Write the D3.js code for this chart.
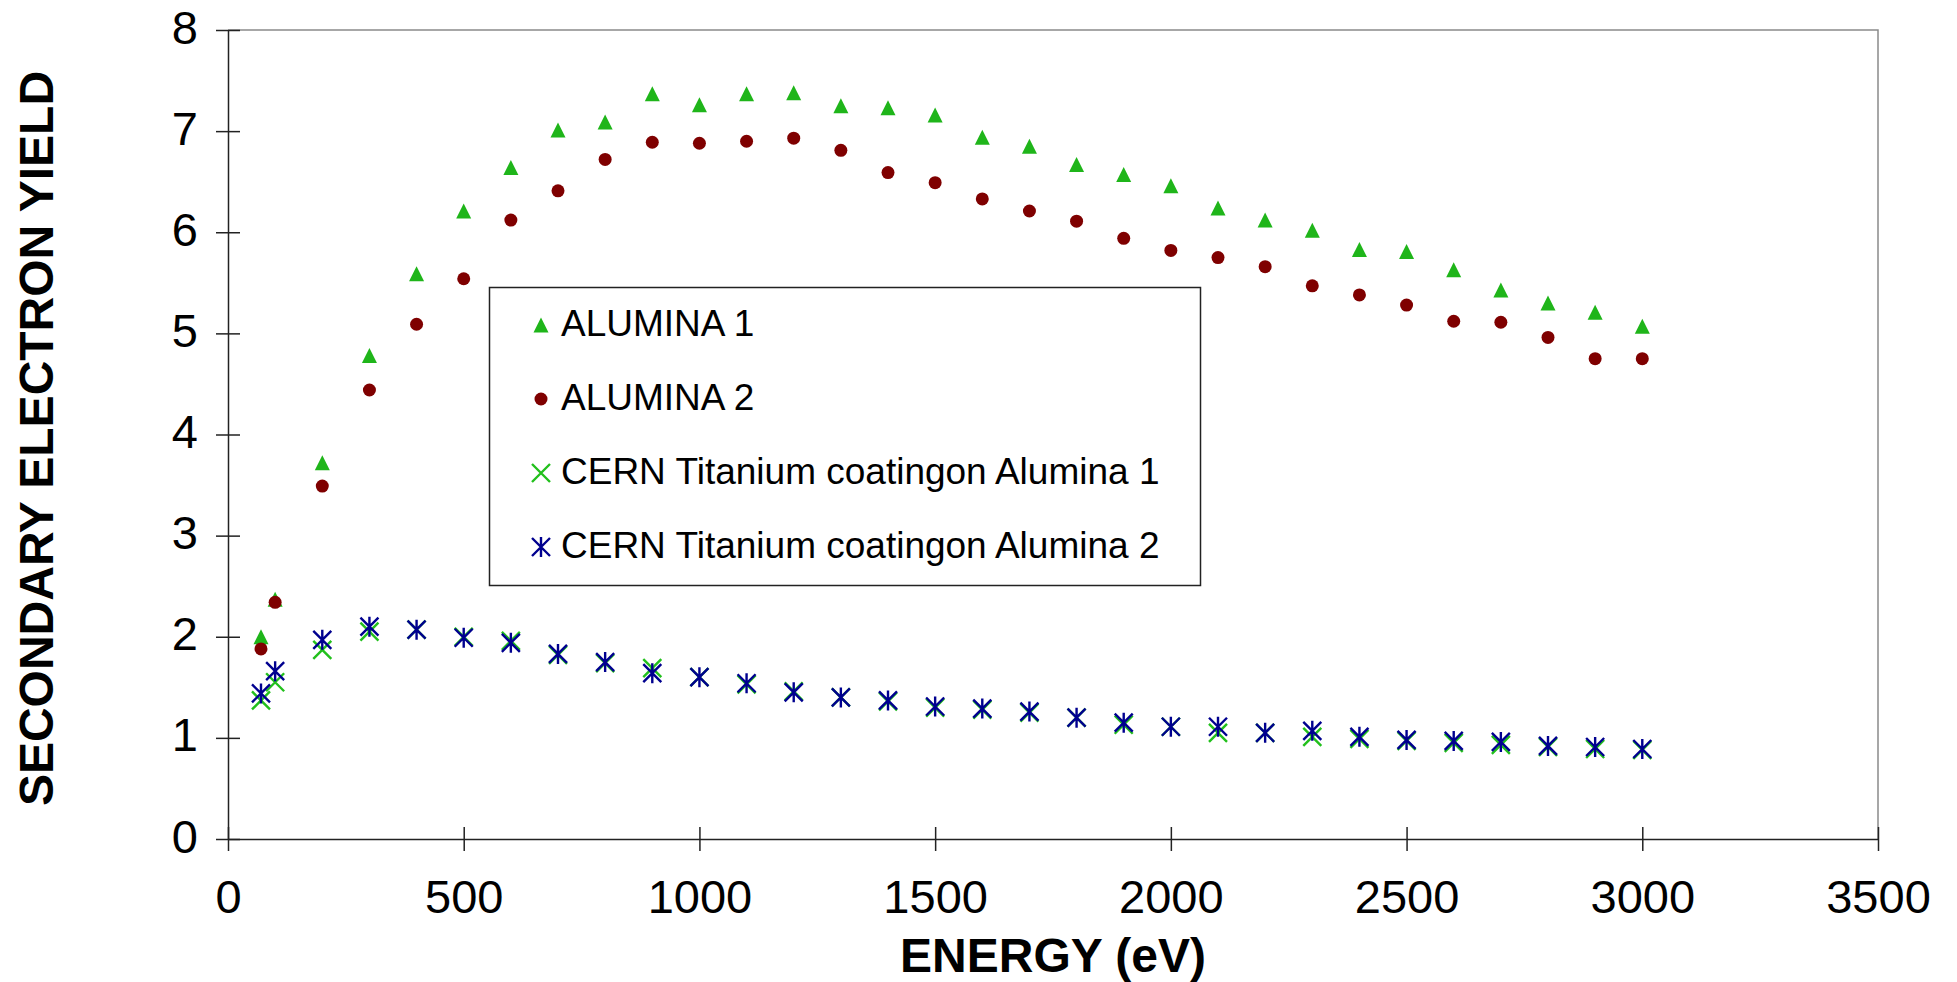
<!DOCTYPE html>
<html>
<head>
<meta charset="utf-8">
<script src="https://cdn.jsdelivr.net/npm/d3@7"></script>
<style>
  html, body { margin: 0; padding: 0; background: #fff; }
  svg { display: block; font-family: Arial, "Liberation Sans", sans-serif; }
</style>
</head>
<body>
<svg id="chart" width="1957" height="982"></svg>
<script>
const energies = [70, 100, 200, 300, 400, 500, 600, 700, 800, 900, 1000, 1100, 1200, 1300, 1400, 1500,
  1600, 1700, 1800, 1900, 2000, 2100, 2200, 2300, 2400, 2500, 2600, 2700, 2800, 2900, 3000];

const alumina1 = [2.00, 2.37, 3.72, 4.78, 5.59, 6.21, 6.64, 7.01, 7.09, 7.37, 7.26, 7.37, 7.38, 7.25, 7.23, 7.16,
  6.94, 6.85, 6.67, 6.57, 6.46, 6.24, 6.12, 6.02, 5.83, 5.81, 5.63, 5.43, 5.30, 5.21, 5.07];
const alumina2 = [1.88, 2.34, 3.49, 4.44, 5.09, 5.54, 6.12, 6.41, 6.72, 6.89, 6.88, 6.90, 6.93, 6.81, 6.59, 6.49,
  6.33, 6.21, 6.11, 5.94, 5.82, 5.75, 5.66, 5.47, 5.38, 5.28, 5.12, 5.11, 4.96, 4.75, 4.75];
const cern1 = [1.37, 1.55, 1.87, 2.05, 2.07, 2.00, 1.96, 1.82, 1.74, 1.69, 1.60, 1.53, 1.46, 1.40, 1.36, 1.30,
  1.28, 1.25, 1.20, 1.13, 1.11, 1.05, 1.05, 1.01, 0.99, 0.97, 0.95, 0.93, 0.91, 0.89, 0.88];
const cern2 = [1.44, 1.66, 1.97, 2.10, 2.07, 1.99, 1.94, 1.83, 1.75, 1.64, 1.60, 1.54, 1.45, 1.40, 1.37, 1.31,
  1.29, 1.26, 1.20, 1.15, 1.11, 1.11, 1.05, 1.07, 1.01, 0.98, 0.97, 0.96, 0.92, 0.91, 0.89];

const seriesNames = ["ALUMINA 1", "ALUMINA 2", "CERN Titanium coatingon Alumina 1", "CERN Titanium coatingon Alumina 2"];
const xTicks = [0, 500, 1000, 1500, 2000, 2500, 3000, 3500];
const yTicks = [0, 1, 2, 3, 4, 5, 6, 7, 8];

// marker shapes, drawn around (0,0)
const MARKERS = {
  triangle: { path: "M0,-7.5L7.5,7.5L-7.5,7.5Z", fill: "#1fb51a", stroke: "none" },
  circle:   { path: d3.symbol(d3.symbolCircle, Math.PI * 6.5 * 6.5)(), fill: "#7f0000", stroke: "none" },
  cross:    { path: "M-9,-9L9,9M-9,9L9,-9", fill: "none", stroke: "#22c01c" },
  asterisk: { path: "M-9,-9L9,9M-9,9L9,-9M0,-10L0,10", fill: "none", stroke: "#00008f" },
};

const series = [
  { name: seriesNames[0], values: alumina1, marker: "triangle" },
  { name: seriesNames[1], values: alumina2, marker: "circle" },
  { name: seriesNames[2], values: cern1, marker: "cross" },
  { name: seriesNames[3], values: cern2, marker: "asterisk" },
];

const plotLeft = 228, plotRight = 1878, plotTop = 30, plotBottom = 839;

const x = d3.scaleLinear().domain([0, 3500]).range([plotLeft, plotRight]);
const y = d3.scaleLinear().domain([0, 8]).range([plotBottom, plotTop]);

const svg = d3.select("#chart");

// plot frame (top / right in grey)
svg.append("path")
  .attr("d", `M${plotLeft},${plotTop}H${plotRight}V${plotBottom}`)
  .attr("fill", "none")
  .attr("stroke", "#8a8a8a")
  .attr("stroke-width", 1.5);

const xAxis = svg.append("g")
  .attr("transform", `translate(0,${plotBottom})`)
  .call(d3.axisBottom(x).tickValues(xTicks).tickFormat(d3.format("d")).tickSizeOuter(0));

xAxis.selectAll(".tick line").attr("y1", -12).attr("y2", 12);
xAxis.selectAll(".tick text").attr("y", 74).attr("dy", null).attr("font-size", 47);

const yAxis = svg.append("g")
  .attr("transform", `translate(${plotLeft},0)`)
  .call(d3.axisLeft(y).tickValues(yTicks).tickSizeOuter(0));

yAxis.selectAll(".tick line").attr("x1", -12).attr("x2", 12);
yAxis.selectAll(".tick text").attr("x", -30).attr("dy", null).attr("y", 13).attr("font-size", 47);

svg.selectAll(".domain, .tick line").attr("stroke", "#222").attr("stroke-width", 1.5);
svg.selectAll(".tick text").attr("fill", "#000").attr("font-family", "Arial, 'Liberation Sans', sans-serif");

// titles
svg.append("text")
  .attr("x", (plotLeft + plotRight) / 2)
  .attr("y", 972)
  .attr("text-anchor", "middle")
  .attr("font-size", 48)
  .attr("font-weight", "bold")
  .text("ENERGY (eV)");

svg.append("text")
  .attr("transform", `translate(53,${(plotTop + plotBottom) / 2 + 4}) rotate(-90)`)
  .attr("text-anchor", "middle")
  .attr("font-size", 48)
  .attr("font-weight", "bold")
  .text("SECONDARY ELECTRON YIELD");

// data points
series.forEach(s => {
  const m = MARKERS[s.marker];
  svg.append("g")
    .selectAll("path")
    .data(s.values.map((v, i) => ({ e: energies[i], v })))
    .join("path")
    .attr("transform", d => `translate(${x(d.e)},${y(d.v)})`)
    .attr("d", m.path)
    .attr("fill", m.fill)
    .attr("stroke", m.stroke)
    .attr("stroke-width", 2.4);
});

// legend
const legend = svg.append("g");
legend.append("rect")
  .attr("x", 489.5).attr("y", 287.5)
  .attr("width", 711).attr("height", 298)
  .attr("fill", "#fff")
  .attr("stroke", "#222")
  .attr("stroke-width", 1.5);

series.forEach((s, i) => {
  const m = MARKERS[s.marker];
  const baseline = 336 + i * 74;
  legend.append("path")
    .attr("transform", `translate(541,${baseline - 11})`)
    .attr("d", m.path)
    .attr("fill", m.fill)
    .attr("stroke", m.stroke)
    .attr("stroke-width", 2.4);
  legend.append("text")
    .attr("x", 561)
    .attr("y", baseline)
    .attr("font-size", 37)
    .text(s.name);
});
</script>
</body>
</html>
